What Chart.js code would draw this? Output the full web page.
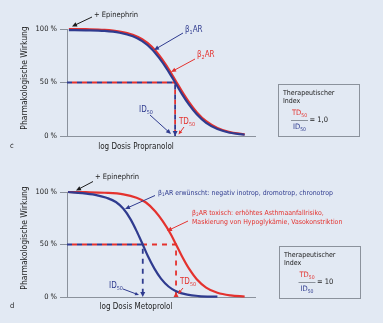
<!DOCTYPE html>
<html>
<head>
<meta charset="utf-8">
<script src="https://cdn.jsdelivr.net/npm/chart.js@4/dist/chart.umd.min.js"></script>
<style>
  html, body { margin: 0; padding: 0; background: #e2e9f3; }
  #wrap { position: relative; width: 383px; height: 323px; background: #e2e9f3; }
  #cTop { position: absolute; left: 0; top: 0; }
  #cBot { position: absolute; left: 0; top: 160px; }
</style>
</head>
<body>
<div id="wrap">
  <canvas id="cTop" width="383" height="160"></canvas>
  <canvas id="cBot" width="383" height="163"></canvas>
</div>
<script>
// ── Data ──────────────────────────────────────────────────────────────────
// log dose in arbitrary units (0 = y axis, 100 = end of x axis)
const doseProp      = [1, 10, 20, 28, 35, 40, 45, 49, 53, 57.5, 61, 65, 69, 74, 80, 86, 94.5]
const b1Propranolol = [99, 98.8, 98.2, 96.5, 93.2, 88.6, 81.4, 73, 63, 50, 39.6, 29, 20.3, 12.3, 6.5, 3.3, 1.2]
const b2Propranolol = [100, 99.8, 99.2, 97.6, 94.6, 90.4, 83.6, 75.6, 65.6, 52.6, 42.2, 31.4, 22.3, 13.8, 7.5, 3.9, 1.5]

const doseMetoB1    = [0.5, 8, 15, 21, 26, 30, 34, 37.5, 40.3, 43, 46.5, 50, 54, 58, 64, 70, 80]
const b1Metoprolol  = [100, 99, 97.3, 94.5, 90.5, 84, 73.5, 61, 50, 39, 27, 17.5, 10, 5.5, 2.2, 0.9, 0.3]
const doseMetoB2    = [0.5, 10, 20, 30, 37, 42, 47, 51, 55, 58, 61, 65, 69, 74, 80, 87, 94.5]
const b2Metoprolol  = [100, 99.8, 99.3, 97.8, 94.5, 90, 81.5, 72, 60.5, 50, 39.3, 26.7, 16.9, 9, 4, 1.5, 0.5]

const id50Prop = 57.5, td50Prop = 57.5
const id50Meto = 40.3, td50Meto = 58
const yTicks   = [0, 50, 100]
const tiProp   = '1,0'
const tiMeto   = '10'

// ── Styles ────────────────────────────────────────────────────────────────
const BLUE = '#2f3b8f', RED = '#e4322e', GRAY = '#8b929c', INK = '#1c1c1c'
const FONT = '"Liberation Sans Narrow", "DejaVu Sans Condensed", "Arial Narrow", "Liberation Sans", sans-serif'

const pts = (xs, ys) => xs.map((x, i) => ({ x, y: ys[i] }))

function rich(ctx, x, y, parts, size, color, align) {
  const main = size + 'px ' + FONT, sub = (size * 0.68).toFixed(1) + 'px ' + FONT
  let w = 0
  parts.forEach(([t, s]) => { ctx.font = s ? sub : main; w += ctx.measureText(t).width })
  let cx = align === 'center' ? x - w / 2 : align === 'right' ? x - w : x
  ctx.textBaseline = 'middle'; ctx.textAlign = 'left'; ctx.fillStyle = color
  parts.forEach(([t, s]) => {
    ctx.font = s ? sub : main
    ctx.fillText(t, cx, s ? y + size * 0.3 : y)
    cx += ctx.measureText(t).width
  })
}

function arrow(ctx, x1, y1, x2, y2, color, head = 5) {
  const a = Math.atan2(y2 - y1, x2 - x1), c = Math.cos(a), s = Math.sin(a)
  ctx.strokeStyle = color; ctx.fillStyle = color; ctx.lineWidth = 1
  ctx.beginPath(); ctx.moveTo(x1, y1); ctx.lineTo(x2 - c * head * 0.8, y2 - s * head * 0.8); ctx.stroke()
  ctx.beginPath(); ctx.moveTo(x2, y2)
  ctx.lineTo(x2 - head * c + head * 0.45 * s, y2 - head * s - head * 0.45 * c)
  ctx.lineTo(x2 - head * c - head * 0.45 * s, y2 - head * s + head * 0.45 * c)
  ctx.closePath(); ctx.fill()
}

function head(ctx, x, y, dir, color) {
  ctx.fillStyle = color
  ctx.beginPath()
  ctx.moveTo(x, y)
  ctx.lineTo(x - 2.5, y - 5 * dir)
  ctx.lineTo(x + 2.5, y - 5 * dir)
  ctx.closePath(); ctx.fill()
}

function indexBox(ctx, x, y, value, fx) {
  ctx.strokeStyle = GRAY; ctx.lineWidth = 1
  ctx.strokeRect(x + 0.5, y + 0.5, 81, 52)
  rich(ctx, x + 5, y + 9.5, [['Therapeutischer']], 7, INK, 'left')
  rich(ctx, x + 5, y + 17, [['Index']], 7, INK, 'left')
  rich(ctx, fx, y + 29.5, [['TD'], ['50', 1]], 7.5, RED, 'center')
  ctx.strokeStyle = GRAY
  ctx.beginPath(); ctx.moveTo(fx - 8.5, y + 36.5); ctx.lineTo(fx + 8.5, y + 36.5); ctx.stroke()
  rich(ctx, fx, y + 43.5, [['ID'], ['50', 1]], 7.5, BLUE, 'center')
  rich(ctx, fx + 10, y + 36.5, [['= ' + value]], 7.5, INK, 'left')
}

function common(ctx, letter, xTitle) {
  rich(ctx, 10, 146, [[letter]], 7.5, INK, 'left')
  rich(ctx, 136, 147, [[xTitle]], 8, INK, 'center')
  ctx.save(); ctx.translate(25, 78); ctx.rotate(-Math.PI / 2)
  rich(ctx, 0, 0, [['Pharmakologische Wirkung']], 8.5, INK, 'center')
  ctx.restore()
}

function curve(data, color) {
  return { data, borderColor: color, borderWidth: 2.2, pointRadius: 0, cubicInterpolationMode: 'monotone', clip: 4 }
}
function dashed(x, color, offset) {
  return { data: [{ x: 0, y: 50 }, { x, y: 50 }, { x, y: 0 }], borderColor: color, borderWidth: 1.8,
           borderDash: [5, 5], borderDashOffset: offset, pointRadius: 0, tension: 0 }
}

function makeChart(id, datasets, pad, draw) {
  new Chart(document.getElementById(id), {
    type: 'line',
    data: { datasets },
    options: {
      responsive: false, animation: false, events: [],
      layout: { padding: pad },
      plugins: { legend: { display: false }, tooltip: { enabled: false } },
      scales: {
        x: { type: 'linear', min: 0, max: 100, ticks: { display: false },
             grid: { display: false }, border: { color: GRAY, width: 1 },
             afterFit: s => { s.height = 0 } },
        y: { min: 0, max: 100, afterFit: s => { s.width = 67 },
             afterBuildTicks: s => { s.ticks = yTicks.map(v => ({ value: v })) },
             ticks: { padding: 3, color: INK, font: { family: FONT, size: 7.5 }, callback: v => v + ' %' },
             grid: { drawOnChartArea: false, tickLength: 7, color: GRAY },
             border: { color: GRAY, width: 1 } }
      }
    },
    plugins: [{ id: 'annot', afterDraw: c => {
      const ctx = c.ctx
      ctx.save()
      draw(ctx, v => c.scales.x.getPixelForValue(v), v => c.scales.y.getPixelForValue(v))
      ctx.restore()
    } }]
  })
}

// ── Panel c: Propranolol ─────────────────────────────────────────────────
makeChart('cTop', [
  curve(pts(doseProp, b1Propranolol), BLUE),
  curve(pts(doseProp, b2Propranolol), RED),
  dashed(id50Prop, BLUE, 0),
  dashed(td50Prop, RED, 5)
], { left: 0, right: 128, top: 29, bottom: 24 }, (ctx, sx, sy) => {
  common(ctx, 'c', 'log Dosis Propranolol')
  head(ctx, sx(id50Prop), sy(0), 1, BLUE)
  arrow(ctx, 92, 17, 72, 26.5, INK)
  rich(ctx, 94, 15, [['+ Epinephrin']], 7.5, INK, 'left')
  arrow(ctx, 183, 33, 154, 50, BLUE)
  rich(ctx, 185, 30, [['β'], ['1', 1], ['AR']], 8, BLUE, 'left')
  arrow(ctx, 195, 59, 171, 72, RED)
  rich(ctx, 197, 55, [['β'], ['2', 1], ['AR']], 8, RED, 'left')
  rich(ctx, 146, 110, [['ID'], ['50', 1]], 8, BLUE, 'center')
  arrow(ctx, 150, 115, 171, 134, BLUE)
  rich(ctx, 187, 122, [['TD'], ['50', 1]], 8, RED, 'center')
  arrow(ctx, 184, 127, 178.5, 134.5, RED, 4)
  indexBox(ctx, 278, 84, tiProp, 299.5)
})

// ── Panel d: Metoprolol ──────────────────────────────────────────────────
makeChart('cBot', [
  curve(pts(doseMetoB1, b1Metoprolol), BLUE),
  curve(pts(doseMetoB2, b2Metoprolol), RED),
  dashed(id50Meto, BLUE, 0),
  dashed(td50Meto, RED, 5)
], { left: 0, right: 128, top: 32, bottom: 26 }, (ctx, sx, sy) => {
  common(ctx, 'd', 'log Dosis Metoprolol')
  head(ctx, sx(id50Meto), sy(0), 1, BLUE)
  head(ctx, sx(td50Meto), sy(0) - 5, -1, RED)
  arrow(ctx, 93, 21.5, 76, 30.5, INK)
  rich(ctx, 95, 17, [['+ Epinephrin']], 7.5, INK, 'left')
  arrow(ctx, 155, 35.5, 125, 49, BLUE)
  rich(ctx, 158, 33, [['β'], ['1', 1], ['AR erwünscht: negativ inotrop, dromotrop, chronotrop']], 6.9, BLUE, 'left')
  arrow(ctx, 188, 61, 167, 71, RED)
  rich(ctx, 192, 53, [['β'], ['2', 1], ['AR toxisch: erhöhtes Asthmaanfallrisiko,']], 6.9, RED, 'left')
  rich(ctx, 192, 62, [['Maskierung von Hypoglykämie, Vasokonstriktion']], 6.9, RED, 'left')
  rich(ctx, 116, 126, [['ID'], ['50', 1]], 8, BLUE, 'center')
  arrow(ctx, 123, 129, 139, 135, BLUE, 4)
  rich(ctx, 188, 122, [['TD'], ['50', 1]], 8, RED, 'center')
  arrow(ctx, 183, 128, 178, 134, RED, 4)
  indexBox(ctx, 279, 86, tiMeto, 307)
})
</script>
</body>
</html>
